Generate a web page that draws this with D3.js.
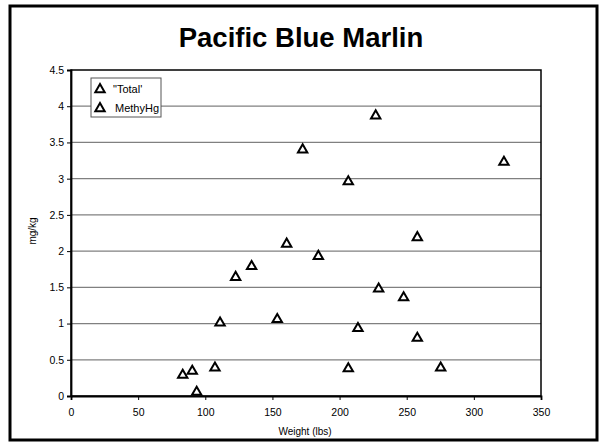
<!DOCTYPE html>
<html><head><meta charset="utf-8">
<script src="https://cdn.jsdelivr.net/npm/d3@7"></script>
<style>body{margin:0;background:#fff}svg{display:block;font-family:"Liberation Sans",Arial,sans-serif}</style>
</head><body><svg id="c" width="602" height="447"></svg>
<script>
const title = "Pacific Blue Marlin";
const seriesNames = ["\"Total'", "MethyHg"];
const totalWeight = [122.6, 134.5, 160.6, 172.5, 184.2, 206.5, 226.9, 229.1, 247.7, 257.9, 322.4];
const totalValue  = [1.65, 1.80, 2.11, 3.41, 1.94, 2.97, 3.88, 1.49, 1.37, 2.20, 3.24];
const methylWeight = [83.2, 90.3, 93.6, 107.2, 111.0, 153.6, 206.5, 213.7, 257.9, 275.3];
const methylValue  = [0.30, 0.355, 0.065, 0.40, 1.02, 1.07, 0.39, 0.945, 0.81, 0.40];
const xTicks = [0, 50, 100, 150, 200, 250, 300, 350];
const yTicks = [0, 0.5, 1, 1.5, 2, 2.5, 3, 3.5, 4, 4.5];

const svg = d3.select("#c");
const L = 71, R = 541, T = 70, B = 396;
const x = d3.scaleLinear().domain([0, 350]).range([L, R]);
const y = d3.scaleLinear().domain([0, 4.5]).range([B, T]);

// outer frame
svg.append("rect").attr("x", 10).attr("y", 6).attr("width", 587).attr("height", 434)
  .attr("fill", "#fff").attr("stroke", "#000").attr("stroke-width", 3);

// title
svg.append("text").attr("x", 301).attr("y", 47).attr("text-anchor", "middle")
  .attr("font-size", 27.5).attr("font-weight", "bold").text(title);

// gridlines
svg.append("g").selectAll("line").data(yTicks.filter(d => d > 0 && d < 4.5)).join("line")
  .attr("x1", L).attr("x2", R).attr("y1", d => y(d)).attr("y2", d => y(d))
  .attr("stroke", "#808080").attr("stroke-width", 1.2);

// plot border
svg.append("rect").attr("x", L).attr("y", T).attr("width", R - L).attr("height", B - T)
  .attr("fill", "none").attr("stroke", "#000").attr("stroke-width", 1.5);

// axes
const yAxis = d3.axisLeft(y).tickValues(yTicks).tickSize(4).tickPadding(3).tickFormat(d3.format("~g"));
const gy = svg.append("g").attr("transform", `translate(${L},0)`).call(yAxis);
const xAxis = d3.axisBottom(x).tickValues(xTicks).tickSize(4).tickPadding(9);
const gx = svg.append("g").attr("transform", `translate(0,${B})`).call(xAxis);
[gx, gy].forEach(g => {
  g.select(".domain").attr("stroke", "#000").attr("stroke-width", 1.8);
  g.selectAll(".tick line").attr("stroke", "#000");
  g.selectAll(".tick text").attr("font-size", 10.5).attr("fill", "#000")
    .attr("font-family", "'Liberation Sans',Arial,sans-serif");
});

// axis titles
svg.append("text").attr("x", 305).attr("y", 435).attr("text-anchor", "middle")
  .attr("font-size", 10).text("Weight (lbs)");
svg.append("text").attr("transform", "translate(36,231) rotate(-90)").attr("text-anchor", "middle")
  .attr("font-size", 10).text("mg/kg");

// markers
const tri = d3.symbol().type(d3.symbolTriangle).size(38);
const series = [
  {w: totalWeight, v: totalValue},
  {w: methylWeight, v: methylValue}
];
series.forEach(s => {
  svg.append("g").selectAll("path").data(s.w.map((w, i) => [w, s.v[i]])).join("path")
    .attr("d", tri).attr("transform", d => `translate(${x(d[0])},${y(d[1]) + 0.8})`)
    .attr("fill", "#fff").attr("stroke", "#000").attr("stroke-width", 2);
});

// legend
const lg = svg.append("g");
lg.append("rect").attr("x", 91).attr("y", 78).attr("width", 70).attr("height", 39)
  .attr("fill", "#fff").attr("stroke", "#555").attr("stroke-width", 1);
seriesNames.forEach((n, i) => {
  const cy = 89 + i * 19;
  lg.append("path").attr("d", tri).attr("transform", `translate(100,${cy + 0.5})`)
    .attr("fill", "#fff").attr("stroke", "#000").attr("stroke-width", 2);
  lg.append("text").attr("x", i === 0 ? 113 : 115).attr("y", cy + 4).attr("font-size", 11).text(n);
});
</script></body></html>
